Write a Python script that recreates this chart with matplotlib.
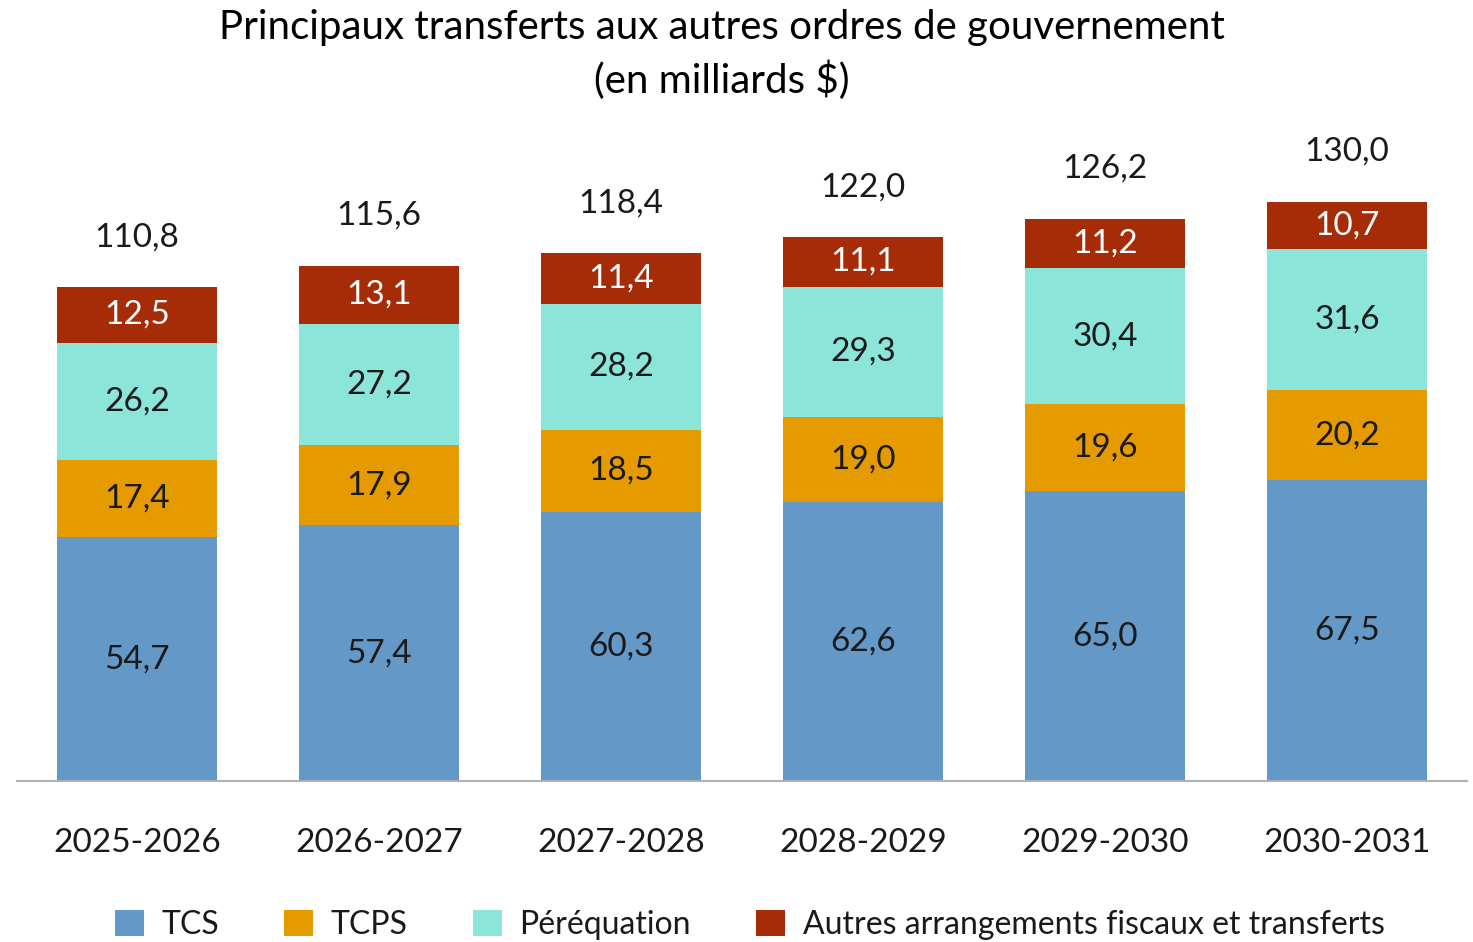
import matplotlib.pyplot as plt
import numpy as np

plt.rcParams['font.family'] = ['Lato', 'DejaVu Sans']

years = ["2025-2026", "2026-2027", "2027-2028", "2028-2029", "2029-2030", "2030-2031"]
tcs = [54.7, 57.4, 60.3, 62.6, 65.0, 67.5]
tcps = [17.4, 17.9, 18.5, 19.0, 19.6, 20.2]
perequation = [26.2, 27.2, 28.2, 29.3, 30.4, 31.6]
autres = [12.5, 13.1, 11.4, 11.1, 11.2, 10.7]
totals = [110.8, 115.6, 118.4, 122.0, 126.2, 130.0]

series = [
    ("TCS", tcs, "#6398C7", "#1a1a1a"),
    ("TCPS", tcps, "#E59A00", "#1a1a1a"),
    ("Péréquation", perequation, "#8CE5D9", "#1a1a1a"),
    ("Autres arrangements fiscaux et transferts", autres, "#A62B07", "white"),
]


def fmt(v):
    return f"{v:.1f}".replace(".", ",")


fig = plt.figure(figsize=(14.73, 9.42), dpi=100)
ax = fig.add_axes([17 / 1473, 1 - 781 / 942, 1450 / 1473, 624 / 942])

x = np.arange(len(years))
bottom = np.zeros(len(years))
for name, vals, color, tcolor in series:
    vals = np.array(vals)
    ax.bar(x, vals, bottom=bottom, width=0.665, color=color, label=name)
    for xi, b, v in zip(x, bottom, vals):
        ax.text(xi, b + v / 2, fmt(v), ha="center", va="center",
                fontsize=24, color=tcolor)
    bottom += vals

for xi, t in zip(x, totals):
    ax.annotate(fmt(t), (xi, t), xytext=(0, 36), textcoords="offset points",
                ha="center", va="center", fontsize=24, color="#1a1a1a")

ax.set_xlim(-0.496, 5.496)
ax.set_ylim(0, 140)
ax.set_yticks([])
ax.set_xticks(x)
ax.set_xticklabels(years, fontsize=24, color="#1a1a1a")
ax.tick_params(axis="x", length=0, pad=34)
for s in ["top", "right", "left"]:
    ax.spines[s].set_visible(False)
ax.spines["bottom"].set_color("#b0b0b0")
ax.spines["bottom"].set_linewidth(1.5)

fig.text(0.49, 0.971, "Principaux transferts aux autres ordres de gouvernement",
         ha="center", va="center", fontsize=29, color="black")
fig.text(0.49, 0.915, "(en milliards $)", ha="center", va="center",
         fontsize=29, color="black")

fig.legend(loc="center", bbox_to_anchor=(0.509, 0.018), ncol=4, frameon=False,
           fontsize=23, handlelength=0.9, handleheight=0.9, handletextpad=0.55,
           columnspacing=2.05, labelcolor="#1a1a1a")

fig.savefig("out.png", dpi=100)
